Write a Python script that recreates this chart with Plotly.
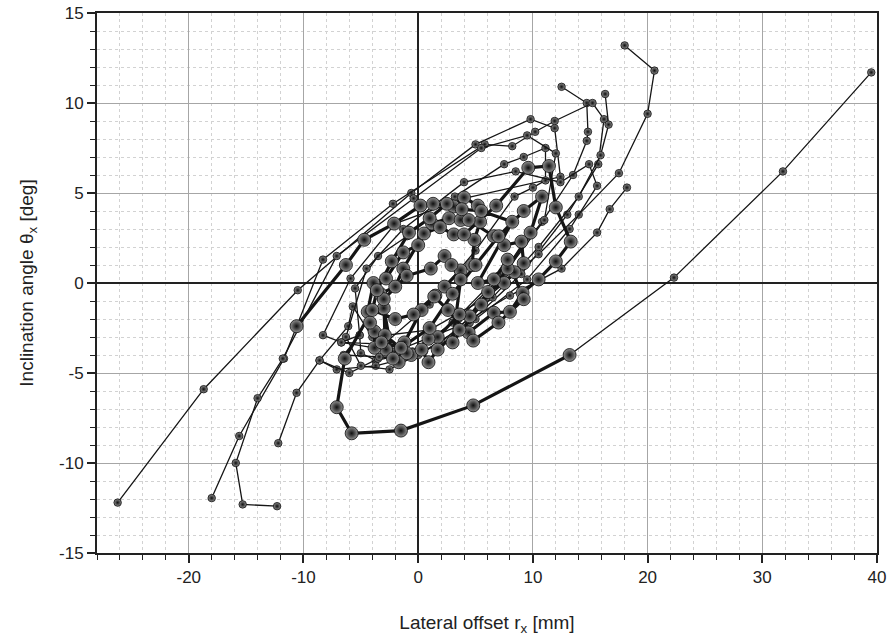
import plotly.graph_objects as go

# ---------------- data ----------------
entry_x = [39.5, 31.8, 22.3, 13.2]
entry_y = [11.7, 6.2, 0.3, -4.0]

trial_b_x = [12.5, 14.7, 14.8, 14.7, 13.5, 10.8, 7.0, 3.0, -0.5, -3.7, -5.0, -5.1, -5.5, -3.5, -0.96, 3.2, 7.5, 9.2, 11.1, 11.1, 10.0, 8.4, 5.0, 1.0, -3.0, -6.7, -8.3, -5.9, -2.0, 4.0, 12.4, 11.9, 9.8, 5.0, -0.6, -10.5, -18.7, -26.2]
trial_b_y = [10.9, 10.0, 8.4, 7.9, 6.0, 3.4, 0.4, -2.2, -3.9, -4.3, -3.9, -2.9, -0.3, 1.5, 2.6, 4.8, 6.6, 7.0, 7.5, 5.7, 5.3, 4.8, 1.8, -1.2, -3.4, -3.3, -2.9, 0.25, 3.3, 4.7, 5.9, 8.6, 9.1, 7.7, 5.0, -0.4, -5.9, -12.2]

trial_e_x = [-18.0, -15.6, -11.7, -8.3, -2.2, 5.8, 8.2, 10.2, 11.9, 15.2, 16.2, 15.7, 13.0, 9.0, 4.5, 0.0, -3.7, -7.1, -8.6, -6.1, -5.7, -4.0, 1.0, 6.0, 10.5, 14.0, 17.5, 20.0, 20.6, 18.0]
trial_e_y = [-11.95, -8.5, -4.2, 1.3, 4.4, 7.7, 7.6, 8.4, 9.0, 10.0, 9.1, 6.6, 3.8, 0.5, -2.2, -4.0, -4.6, -4.8, -4.3, -2.4, -1.3, -3.0, -2.6, -0.8, 1.6, 3.8, 6.1, 9.4, 11.8, 13.2]

trial_f_x = [16.3, 16.6, 15.9, 14.0, 10.5, 6.5, 2.0, -2.5, -5.0, -6.3, -4.5, -1.3, 4.0, 8.5, 12.4, 14.9, 15.6, 13.2, 9.5, 5.0, 0.5, -3.5, -6.0, -8.6, -10.6, -12.2]
trial_f_y = [10.5, 8.8, 7.1, 4.8, 2.0, -0.8, -3.3, -4.8, -4.6, -3.0, 0.8, 3.0, 5.6, 6.2, 5.6, 6.6, 5.4, 3.0, 0.2, -2.0, -3.8, -4.2, -5.0, -4.3, -6.1, -8.9]

trial_d_x = [-12.3, -15.3, -15.9, -14.0, -11.8, -7.1, -0.4, 5.5, 9.5, 12.0, 11.0, 7.5, 3.5, -0.5, -3.4, -6.5, -5.1, -6.7, -2.0, 3.5, 8.0, 12.5, 15.6, 16.7, 18.2]
trial_d_y = [-12.4, -12.3, -10.0, -6.4, -4.2, 1.5, 4.7, 7.5, 8.2, 7.2, 3.5, 0.5, -2.0, -3.8, -4.1, -4.0, -2.9, -3.3, -3.8, -2.4, -0.7, 0.8, 2.8, 4.1, 5.3]

main_x = [-10.6, -6.3, -4.7, -2.1, 0.2, 1.3, 3.1, 4.0, 5.2, 5.4, 4.9, 4.7, 3.7, 2.3, 1.5, 0.3, -1.2, -1.7, -2.8, -3.8, -3.8, -4.4, -3.9, -2.8, -1.3, 0.0,
          1.2, 2.7, 3.7, 4.4, 6.6, 7.5, 9.0, 9.2, 8.4, 7.5, 6.1, 4.5, 3.6, 1.7, 0.9, -0.6, -2.2, -3.0, -3.3, -2.0, -1.3, 0.5, 1.9, 3.1, 4.0,
          6.8, 9.6, 11.4, 12.0, 13.3, 12.0, 10.5, 9.1, 8.0, 6.6, 4.4, 3.6, 1.7, 0.9, 0.3, -1.0, -2.9, -3.0, -1.0, 1.1, 2.3, 2.9, 3.7,
          3.0, 5.5, 7.8, 9.8, 10.8, 9.2, 7.0, 5.0, 3.0, 1.0, -1.5, -3.2, -4.2, -3.6, -2.3, -0.8, 1.0, 2.5, 3.8, 5.5, 8.2,
          5.2, 6.6, 7.8, 9.2, 7.0, 4.8, 2.6, 1.4, -0.4, -2.0, -4.0, -6.4, -7.1, -5.8, -1.5, 4.8, 13.2]
main_y = [-2.4, 1.0, 2.4, 3.3, 4.3, 4.4, 4.25, 4.75, 4.3, 3.4, 2.4, 1.0, 0.7, -0.2, -0.7, -1.5, -3.3, -4.4, -3.7, -3.6, -2.7, -1.6, 0.0, 0.25, 1.7, 2.1,
          3.3, 3.6, 3.5, 3.5, 2.6, 2.1, 2.3, 1.1, 0.6, 0.0, -0.5, -1.85, -1.75, -3.0, -3.1, -4.0, -4.2, -1.4, -0.6, -0.2, 0.8, 2.75, 3.1, 2.7, 2.7,
          4.3, 6.4, 6.5, 4.2, 2.3, 1.2, 0.2, -0.55, -1.6, -1.65, -2.75, -2.6, -3.7, -4.4, -3.7, -3.9, -2.9, -0.9, 0.4, 0.8, 1.5, 1.0, 0.2,
          -3.3, -1.2, 0.8, 2.8, 4.8, 4.0, 2.6, 1.0, -0.6, -2.5, -3.6, -3.3, -2.2, -0.4, 1.2, 2.8, 3.6, 4.4, 4.1, 4.0, 3.4,
          0.0, 0.2, 1.3, -0.9, -2.2, -3.2, -1.5, -0.75, -1.75, -2.0, -1.5, -4.2, -6.9, -8.35, -8.2, -6.8, -4.0]

x_ticks = [-20, -10, 0, 10, 20, 30, 40]
x_ticktext = ["-20", "-10", "0", "10", "20", "30", "40"]
y_ticks = [-15, -10, -5, 0, 5, 10, 15]
y_ticktext = ["-15", "-10", "-5", "0", "5", "10", "15"]

# ---------------- figure ----------------
fig = go.Figure()

def add_path(xs, ys, lw, ms):
    fig.add_trace(go.Scatter(
        x=xs, y=ys, mode="lines+markers",
        line=dict(color="#151515", width=lw),
        marker=dict(size=ms, color="#929292",
                    gradient=dict(type="radial", color="#0e0e0e"),
                    line=dict(color="#0c0c0c", width=0.8)),
        hoverinfo="skip", showlegend=False))

for xs, ys in [(trial_b_x, trial_b_y), (trial_e_x, trial_e_y),
               (trial_f_x, trial_f_y), (trial_d_x, trial_d_y),
               (entry_x, entry_y)]:
    add_path(xs, ys, 1.3, 7.5)

add_path(main_x, main_y, 3.2, 13)

font_family = "Liberation Sans, Arial, sans-serif"

axis_common = dict(
    automargin=False,
    showline=True, linecolor="#222222", linewidth=2, mirror=True,
    showgrid=True, gridcolor="#a6a6a6", gridwidth=1,
    zeroline=True, zerolinecolor="#222222", zerolinewidth=1.8,
    ticks="outside", ticklen=8, tickwidth=1.5, tickcolor="#222222",
    tickfont=dict(family=font_family, size=17, color="#222222"),
)

fig.update_xaxes(
    range=[-28, 40], tickmode="array", tickvals=x_ticks, ticktext=x_ticktext,
    minor=dict(dtick=2, tick0=0, showgrid=True, gridcolor="#d2d2d2", griddash="3px,3px",
               gridwidth=1, ticks="outside", ticklen=5, tickwidth=1.2, tickcolor="#222222"),
    title=dict(text="Lateral offset r<sub>x</sub> [mm]", standoff=29,
               font=dict(family=font_family, size=19, color="#222222")),
    **axis_common)

fig.update_yaxes(
    range=[-15, 15], tickmode="array", tickvals=y_ticks, ticktext=y_ticktext,
    minor=dict(dtick=1, tick0=0, showgrid=True, gridcolor="#d2d2d2", griddash="3px,3px",
               gridwidth=1, ticks="outside", ticklen=5, tickwidth=1.2, tickcolor="#222222"),
    title=dict(text="Inclination angle θ<sub>x</sub> [deg]", standoff=20,
               font=dict(family=font_family, size=19, color="#222222")),
    **axis_common)

fig.update_layout(
    width=888, height=640,
    margin=dict(l=97, r=11, t=13, b=87),
    paper_bgcolor="white", plot_bgcolor="white",
    showlegend=False,
)

fig.write_html("out.html",
               config={"displayModeBar": False},
               post_script="document.body.style.margin='0px';document.body.style.padding='0px';")
